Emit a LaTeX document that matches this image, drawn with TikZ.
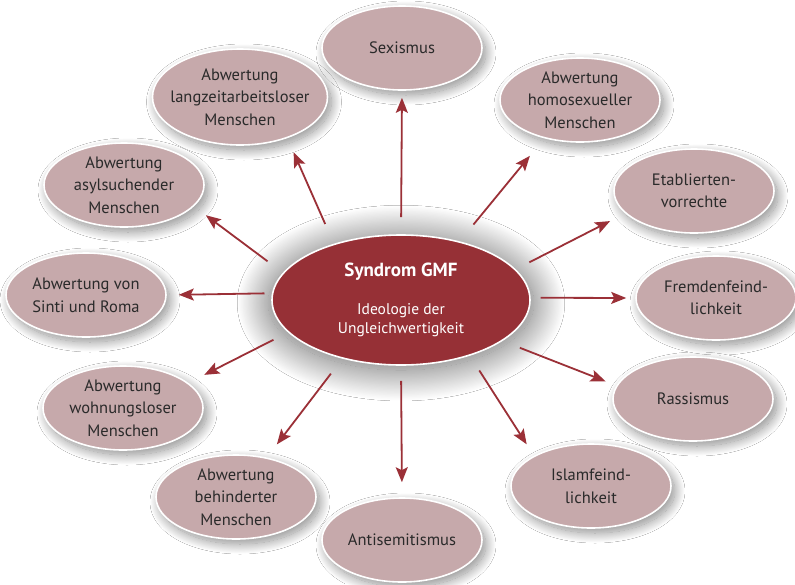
\documentclass[tikz,border=0pt]{standalone}
\usepackage{fontspec}
\setmainfont{PT Sans}
\usetikzlibrary{shapes.geometric,arrows.meta,shadows.blur}
\definecolor{gmfred}{HTML}{963036}
\definecolor{petal}{HTML}{C6A9AB}
\definecolor{arrowred}{HTML}{9B3037}
\definecolor{txt}{HTML}{2A2A2A}
\begin{document}
\begin{tikzpicture}[x=1pt,y=-1pt,
  petalnode/.style={ellipse, fill=petal, draw=white, line width=1.6pt,
    minimum width=160pt, minimum height=84pt, inner sep=-8pt, align=center,
    text=txt, font=\fontsize{16.5}{22.5}\selectfont,
    blur shadow={shadow xshift=4pt, shadow yshift=-5pt, shadow blur radius=10pt, shadow blur steps=25, shadow opacity=45}},
  corenode/.style={ellipse, fill=gmfred, draw=white, line width=1.6pt,
    minimum width=258pt, minimum height=130pt, inner sep=-10pt, align=center,
    text=white, font=\fontsize{15.5}{19}\selectfont,
    blur shadow={shadow xshift=0pt, shadow yshift=-3pt, shadow blur radius=30pt, shadow blur steps=50, shadow scale=1.03, shadow opacity=60}},
  arr/.style={draw=arrowred, line width=1.8pt, -{Stealth[length=15pt,width=12pt,inset=3pt]}}
]
\useasboundingbox (0,0) rectangle (795,584);
\fill[white] (0,0) rectangle (795,584);

\node[corenode] (c) at (401,300) {{\fontsize{19}{21}\bfseries Syndrom GMF}\\[19pt]Ideologie der\\Ungleichwertigkeit};

\node[petalnode] (sex) at (402,48) {Sexismus};
\node[petalnode, minimum width=175pt, minimum height=96pt] (lang) at (240,97) {Abwertung\\langzeitarbeitsloser\\Menschen};
\node[petalnode] (homo) at (580,100) {Abwertung\\homosexueller\\Menschen};
\node[petalnode] (asyl) at (124,185) {Abwertung\\asylsuchender\\Menschen};
\node[petalnode] (etab) at (694,191) {Etablierten-\\vorrechte};
\node[petalnode] (sinti) at (86,295) {Abwertung von\\Sinti und Roma};
\node[petalnode] (fremd) at (716,298) {Fremdenfeind-\\lichkeit};
\node[petalnode] (wohn) at (123,408) {Abwertung\\wohnungsloser\\Menschen};
\node[petalnode] (rass) at (693,399) {Rassismus};
\node[petalnode] (behind) at (236,497) {Abwertung\\behinderter\\Menschen};
\node[petalnode] (islam) at (591,486) {Islamfeind-\\lichkeit};
\node[petalnode] (anti) at (402,540) {Antisemitismus};

\draw[arr, shorten <=17pt, shorten >=7pt] (c.90) -- (sex.-90);
\draw[arr, shorten <=21.5pt, shorten >=15.5pt] (c.140.5) -- (lang.-41.9);
\draw[arr, shorten <=21.7pt, shorten >=22.6pt] (c.45.5) -- (homo.-133.4);
\draw[arr, shorten <=19.1pt, shorten >=14.8pt] (c.167.3) -- (asyl.-17);
\draw[arr, shorten <=15.3pt, shorten >=16.9pt] (c.15.3) -- (etab.-162.8);
\draw[arr, shorten <=7.4pt, shorten >=12pt] (c.177.8) -- (sinti.0);
\draw[arr, shorten <=10pt, shorten >=9pt] (c.1) -- (fremd.180);
\draw[arr, shorten <=16.3pt, shorten >=17.8pt] (c.196.5) -- (wohn.21.5);
\draw[arr, shorten <=18.6pt, shorten >=11.6pt] (c.-22.5) -- (rass.170.5);
\draw[arr, shorten <=18.8pt, shorten >=16.5pt] (c.225.3) -- (behind.52.5);
\draw[arr, shorten <=17.4pt, shorten >=13.5pt] (c.-39.4) -- (islam.152.3);
\draw[arr, shorten <=15pt, shorten >=15pt] (c.-90) -- (anti.90);
\end{tikzpicture}
\end{document}
